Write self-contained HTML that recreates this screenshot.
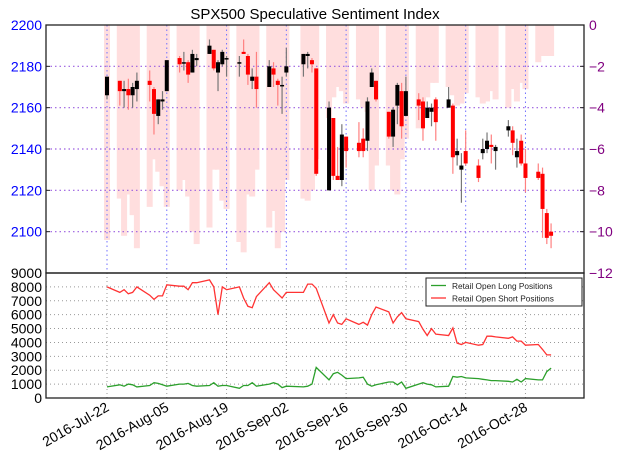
<!DOCTYPE html>
<html><head><meta charset="utf-8"><style>
body{margin:0;background:#fff;width:624px;height:466px;overflow:hidden}
svg{display:block;font-family:"Liberation Sans",sans-serif}
</style></head><body>
<svg id="c" width="624" height="466"></svg>
<script>
const dates=["07-22","07-25","07-26","07-27","07-28","07-29","08-01","08-02","08-03","08-04","08-05","08-08","08-09","08-10","08-11","08-12","08-15","08-16","08-17","08-18","08-19","08-22","08-23","08-24","08-25","08-26","08-29","08-30","08-31","09-01","09-02","09-06","09-07","09-08","09-09","09-12","09-13","09-14","09-15","09-16","09-19","09-20","09-21","09-22","09-23","09-26","09-27","09-28","09-29","09-30","10-03","10-04","10-05","10-06","10-07","10-10","10-11","10-12","10-13","10-14","10-17","10-18","10-19","10-20","10-21","10-24","10-25","10-26","10-27","10-28","10-31","11-01","11-02","11-03"];
const opens=[2166,2173,2168,2169,2166,2169,2173,2169,2156,2163,2168,2184,2182,2182,2177,2183,2186,2188,2177,2181,2184,2182,2187,2185,2173,2175,2170,2179,2173,2171,2177,2181,2185,2183,2179,2120,2155,2127,2125,2146,2143,2145,2144,2170,2173,2158,2146,2161,2168,2156,2164,2163,2155,2158,2164,2160,2161,2137,2130,2139,2132,2138,2140,2142,2139,2149,2149,2136,2144,2133,2129,2128,2109,2100];
const highs=[2175,2173,2173,2174,2172,2177,2178,2170,2164,2168,2182,2185,2187,2183,2188,2186,2193,2188,2183,2188,2185,2185,2193,2186,2179,2187,2183,2182,2174,2175,2189,2186,2187,2184,2179,2163,2155,2141,2152,2146,2153,2150,2165,2179,2173,2158,2160,2172,2172,2175,2167,2165,2163,2162,2165,2170,2162,2145,2138,2149,2135,2145,2148,2147,2142,2154,2151,2145,2147,2140,2133,2131,2111,2104];
const lows=[2164,2161,2160,2159,2160,2163,2163,2147,2152,2159,2168,2177,2178,2172,2177,2180,2186,2178,2168,2180,2175,2175,2186,2171,2169,2160,2170,2170,2161,2157,2175,2175,2179,2177,2127,2120,2125,2125,2122,2131,2136,2136,2139,2170,2163,2145,2141,2152,2145,2156,2154,2144,2155,2151,2144,2160,2128,2132,2114,2132,2124,2135,2138,2133,2130,2146,2137,2131,2132,2119,2125,2097,2094,2092];
const closes=[2175,2168,2169,2166,2170,2173,2171,2157,2164,2164,2183,2181,2182,2176,2186,2184,2190,2179,2182,2187,2184,2182,2186,2176,2175,2169,2180,2176,2171,2171,2180,2186,2186,2181,2128,2160,2127,2125,2147,2139,2139,2139,2163,2177,2164,2146,2159,2171,2151,2168,2161,2150,2160,2160,2153,2164,2136,2139,2132,2133,2126,2140,2144,2141,2141,2151,2143,2139,2133,2126,2126,2111,2097,2098];
const sentiment=[-10.4,-8.4,-10.2,-8.2,-9.2,-10.8,-8.8,-6.5,-7.1,-7.8,-8.8,-8.0,-7.5,-8.3,-10.0,-10.6,-9.8,-7.0,-7.0,-8.5,-8.9,-10.5,-11.0,-8.2,-8.3,-7.0,-9.8,-9.0,-10.8,-10.0,-7.5,-8.4,-8.5,-8.0,-6.5,-4.5,-3.5,-3.0,-3.2,-3.8,-3.6,-4.0,-4.2,-8.0,-6.8,-6.8,-8.0,-8.2,-6.5,-5.5,-5.0,-4.0,-3.5,-2.8,-2.8,-3.0,-3.4,-3.9,-3.8,-3.3,-3.5,-3.8,-3.7,-3.2,-3.6,-4.0,-3.1,-3.7,-2.8,-3.1,-1.8,-1.5,-1.5,-1.5];
const shortPos=[8000,7600,7800,7500,7600,8000,7400,7100,7350,7350,8150,8050,8050,7800,8300,8300,8500,8000,6000,8000,7800,8000,7200,6600,6500,7300,8300,7800,7500,7200,7600,7600,8200,8200,7900,5400,6000,5400,5300,5700,5300,5450,5250,6000,6550,6200,5400,5850,6150,5700,5500,4950,4500,5000,4600,4500,5050,3950,3850,4000,3800,3850,4450,4450,4400,4300,4400,4100,4100,3800,3850,3500,3100,3100];
const longPos=[800,950,850,1000,950,800,900,1100,1050,950,850,1000,1000,1050,900,850,900,1100,850,900,900,700,900,900,1100,850,1000,1100,1000,750,850,800,850,1000,2200,1300,1750,1850,1650,1400,1450,1500,1000,850,950,1150,1150,950,1150,700,1000,1100,1000,950,800,850,1550,1500,1550,1450,1400,1350,1300,1250,1250,1200,1150,1350,1150,1400,1300,1300,1900,2150];
const priceTicks=[2100,2120,2140,2160,2180,2200];
const sentTicks=[0,-2,-4,-6,-8,-10,-12];
const posTicks=[0,1000,2000,3000,4000,5000,6000,7000,8000,9000];
const xTickLabels=["2016-Jul-22","2016-Aug-05","2016-Aug-19","2016-Sep-02","2016-Sep-16","2016-Sep-30","2016-Oct-14","2016-Oct-28"];
const xTickDates=["07-22","08-05","08-19","09-02","09-16","09-30","10-14","10-28"];

const L=46,R=584,T1=25,B1=273,T2=273,B2=398;
const day0=Date.UTC(2016,6,22);
function dnum(s){const[m,d]=s.split("-").map(Number);return (Date.UTC(2016,m-1,d)-day0)/864e5;}
const xS=s=>107+dnum(s)*4.27;
const yP=v=>T1+(2200-v)*(B1-T1)/120;
const yS=v=>T1+(-v)*(B1-T1)/12;
const yQ=v=>B2-v*(B2-T2)/9000;
const svg=document.getElementById('c');
const NS="http://www.w3.org/2000/svg";
function mk(tag,attrs,parent){const e=document.createElementNS(NS,tag);for(const k in attrs)e.setAttribute(k,attrs[k]);(parent||svg).appendChild(e);return e;}

const gB=mk('g',{});


sentiment.forEach((s,i)=>{const x=xS(dates[i]);const r=mk('rect',{x:x-3,y:T1,width:6,height:yS(s)-T1,fill:'#ffdede'},gB);

});

const gG=mk('g',{});


priceTicks.forEach(v=>{if(v<2200)mk('line',{x1:L,x2:R,y1:yP(v),y2:yP(v),stroke:'#9a5de0','stroke-width':1.2,'stroke-dasharray':'1.5,3'},gG);});
xTickDates.forEach(d=>{const x=xS(d);mk('line',{x1:x,x2:x,y1:T1,y2:B1,stroke:'#7070ff','stroke-width':1,'stroke-dasharray':'1.5,3'},gG);
mk('line',{x1:x,x2:x,y1:T2,y2:B2,stroke:'#999','stroke-width':1,'stroke-dasharray':'1,3'},gG);});
posTicks.forEach(v=>{if(v>0&&v<9000)mk('line',{x1:L,x2:R,y1:yQ(v),y2:yQ(v),stroke:'#999','stroke-width':1,'stroke-dasharray':'1,3'},gG);});

const gC=mk('g',{});


dates.forEach((d,i)=>{const x=xS(d);const up=closes[i]>=opens[i];
const w=mk('line',{x1:x,x2:x,y1:yP(highs[i]),y2:yP(lows[i]),stroke:up?'#777':'#ff8080','stroke-width':1.2},gC);


const top=yP(Math.max(opens[i],closes[i])),bot=yP(Math.min(opens[i],closes[i]));
const b=mk('rect',{x:x-2,y:top,width:4,height:Math.max(1.5,bot-top),fill:up?'#000':'#ff0000'},gC);

});

function line(arr,color,name){const p=arr.map((v,i)=>xS(dates[i]).toFixed(1)+','+yQ(v).toFixed(1)).join(' ');
const e=mk('polyline',{points:p,fill:'none',stroke:color,'stroke-width':1.3});

}
line(longPos,'#2ca02c','long-positions-line');
line(shortPos,'#ff3333','short-positions-line');

mk('rect',{x:L,y:T1,width:R-L,height:B1-T1,fill:'none',stroke:'#222','stroke-width':1.3});
mk('rect',{x:L,y:T2,width:R-L,height:B2-T2,fill:'none',stroke:'#222','stroke-width':1.3});

const t=mk('text',{x:315,y:19,'text-anchor':'middle','font-size':15,fill:'#000'});t.textContent='SPX500 Speculative Sentiment Index';



priceTicks.forEach(v=>{const e=mk('text',{x:42,y:yP(v)+5,'text-anchor':'end','font-size':14,fill:'#0000ff'});e.textContent=v;


mk('line',{x1:L,x2:L+4,y1:yP(v),y2:yP(v),stroke:'#222'});});
sentTicks.forEach(v=>{const e=mk('text',{x:589,y:yS(v)+5,'font-size':14,fill:'#800080'});e.textContent=v===0?'0':'\u2212'+(-v);


mk('line',{x1:R-4,x2:R,y1:yS(v),y2:yS(v),stroke:'#222'});});
posTicks.forEach(v=>{const e=mk('text',{x:42,y:yQ(v)+5,'text-anchor':'end','font-size':14,fill:'#000'});e.textContent=v;

});
xTickLabels.forEach((s,i)=>{const x=xS(xTickDates[i]);const e=mk('text',{x:x+3,y:410,'text-anchor':'end','font-size':14,fill:'#000',transform:`rotate(-30 ${x+3} 410)`});e.textContent=s;

});

const lg=mk('g',{});


mk('rect',{x:426,y:278,width:156,height:28,fill:'#fff',stroke:'#222','stroke-width':1},lg);
mk('line',{x1:431,x2:446,y1:285.5,y2:285.5,stroke:'#2ca02c','stroke-width':1.3},lg);
mk('line',{x1:431,x2:446,y1:298,y2:298,stroke:'#ff3333','stroke-width':1.3},lg);
const l1=mk('text',{x:452,y:289,'font-size':8.3,fill:'#222'},lg);l1.textContent='Retail Open Long Positions';


const l2=mk('text',{x:452,y:301.5,'font-size':8.3,fill:'#222'},lg);l2.textContent='Retail Open Short Positions';


</script>
</body></html>
